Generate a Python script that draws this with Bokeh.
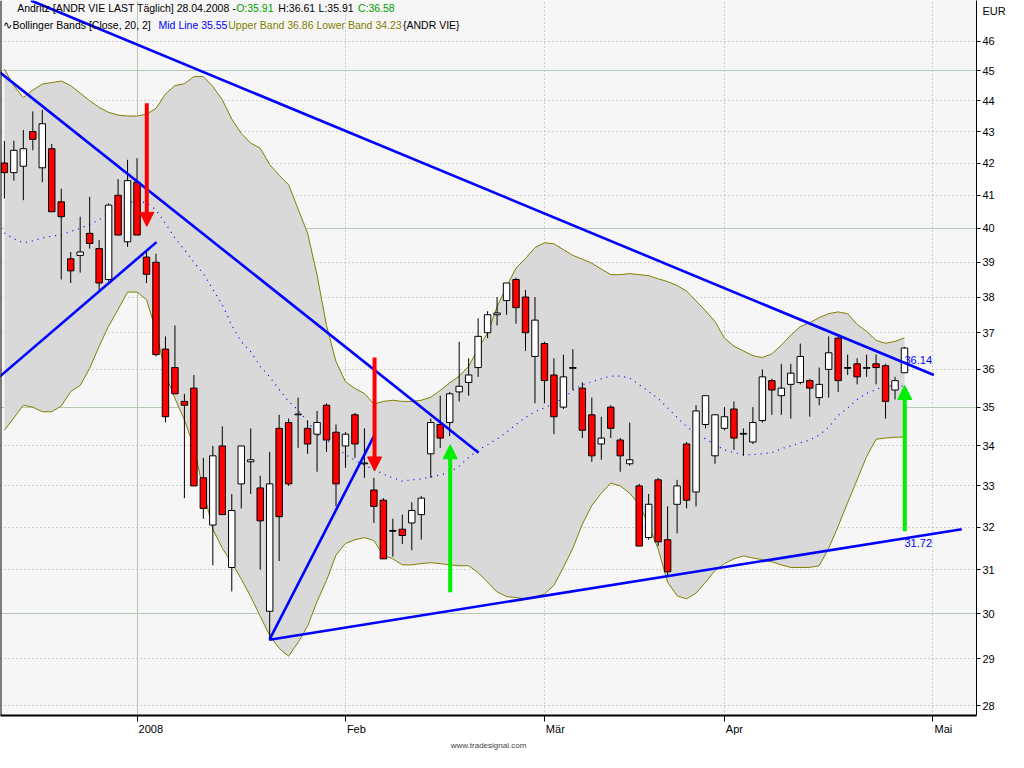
from bokeh.plotting import figure
from bokeh.models import (Range1d, FixedTicker, Grid, Label, Arrow, NormalHead, Span)
from bokeh.embed import file_html
from bokeh.resources import INLINE

# ---------------- data ----------------
opens = [42.0, 41.7, 41.9, 43.0, 41.85, 42.45, 40.8, 39.1, 39.2, 39.85,
         39.4, 38.5, 41.0, 39.6, 41.4, 39.15, 39.0, 36.55, 36.05, 35.15,
         35.5, 33.2, 32.05, 34.0, 31.05, 33.05, 33.6, 32.95, 30.05, 34.45,
         34.6, 34.8, 34.45, 34.3, 35.05, 34.35, 34.0, 34.8, 33.55, 32.9,
         32.65, 31.9, 31.95, 32.1, 32.3, 33.8, 34.55, 34.6, 35.4, 35.65,
         36.05, 37.0, 37.5, 37.9, 38.5, 38.0, 36.35, 36.7, 35.85, 35.0,
         36.05, 35.5, 34.8, 34.05, 35.0, 34.15, 33.55, 33.0, 31.75, 33.15,
         31.7, 32.55, 34.05, 32.85, 34.55, 33.75, 34.45, 34.95, 34.3, 34.1,
         34.65, 35.7, 35.3, 35.6, 35.65, 35.7, 35.25, 36.0, 36.85, 36.05,
         36.15, 36.05, 36.15, 36.1, 35.45, 35.91]
highs = [42.7, 42.7, 43.05, 43.65, 43.7, 42.6, 41.2, 39.3, 40.35, 40.95,
         39.65, 40.75, 41.5, 42.1, 42.15, 39.3, 39.25, 36.9, 37.2, 35.35,
         35.85, 33.7, 34.0, 34.5, 32.8, 34.0, 34.45, 33.25, 33.85, 34.8,
         34.7, 35.25, 34.65, 34.9, 35.1, 34.55, 34.35, 34.85, 34.45, 33.2,
         32.7, 32.2, 32.3, 32.6, 32.75, 34.7, 35.3, 35.4, 36.75, 36.3,
         37.4, 37.6, 38.0, 38.4, 38.55, 38.2, 38.0, 36.75, 36.3, 36.4,
         36.55, 35.65, 35.25, 34.75, 35.05, 34.2, 34.6, 33.05, 32.8, 33.2,
         32.5, 33.15, 34.1, 35.05, 35.3, 34.8, 35.0, 35.15, 34.45, 35.0,
         36.0, 35.75, 36.15, 36.15, 36.7, 35.75, 36.05, 36.9, 36.9, 36.4,
         36.3, 36.4, 36.4, 36.15, 35.8, 36.61]
lows = [40.9, 41.45, 40.85, 42.4, 41.4, 40.5, 38.5, 38.4, 38.7, 39.4,
        38.2, 38.45, 39.8, 39.45, 39.8, 38.4, 36.35, 34.6, 35.35, 32.7,
        33.0, 32.2, 31.1, 32.3, 30.5, 32.45, 32.8, 31.0, 29.4, 31.2,
        33.0, 33.95, 33.8, 33.35, 33.85, 32.5, 33.45, 33.7, 33.2, 32.1,
        31.25, 31.3, 31.6, 31.45, 31.7, 33.2, 33.95, 34.25, 35.15, 35.3,
        35.8, 36.85, 37.2, 37.5, 37.25, 36.5, 35.1, 35.1, 34.3, 34.95,
        35.45, 34.2, 33.6, 33.65, 34.2, 33.35, 33.5, 31.55, 31.7, 31.55,
        30.85, 31.85, 32.45, 32.5, 34.45, 33.55, 34.4, 33.9, 33.75, 34.05,
        34.6, 34.8, 34.8, 34.7, 35.6, 34.75, 35.05, 35.25, 35.4, 35.85,
        35.6, 35.8, 35.6, 34.7, 35.2, 35.91]
closes = [41.7, 42.4, 42.45, 42.75, 43.25, 40.5, 40.35, 38.75, 39.3, 39.55,
          38.4, 40.7, 39.8, 41.45, 39.8, 38.65, 36.4, 34.75, 35.35, 35.05,
          33.0, 32.45, 33.75, 32.3, 32.4, 34.0, 33.65, 32.15, 33.05, 32.25,
          33.05, 34.82, 34.05, 34.6, 34.15, 33.05, 34.3, 34.05, 33.57, 32.5,
          31.25, 31.92, 31.8, 32.4, 32.7, 34.6, 34.2, 35.35, 35.55, 35.85,
          36.9, 37.5, 37.55, 38.4, 37.7, 37.0, 37.35, 35.7, 34.75, 35.8,
          36.03, 34.4, 33.75, 34.2, 34.45, 33.75, 33.65, 31.55, 32.55, 31.65,
          30.95, 33.0, 32.65, 34.9, 35.3, 34.8, 34.75, 34.2, 34.32, 34.6,
          35.8, 35.45, 35.5, 35.9, 36.35, 35.5, 35.6, 36.45, 35.7, 36.03,
          35.8, 36.03, 36.05, 35.15, 35.7, 36.58]

bb_upper = [45.05, 44.5, 44.1, 44.35, 44.55, 44.6, 44.65, 44.5, 44.25, 44.0,
            43.78, 43.62, 43.53, 43.5, 43.5, 43.56, 43.75, 44.22, 44.5, 44.56,
            44.8, 44.8, 44.47, 44.03, 43.4, 42.94, 42.63, 42.47, 41.95, 41.62,
            41.32, 40.58, 39.86, 38.63, 37.2, 36.21, 35.67, 35.49, 35.36, 35.08,
            35.15, 35.18, 35.15, 35.15, 35.18, 35.26, 35.44, 35.64, 35.82, 36.08,
            36.57, 36.99, 37.72, 38.3, 38.83, 39.11, 39.43, 39.57, 39.54, 39.37,
            39.2, 39.09, 38.97, 38.8, 38.64, 38.64, 38.67, 38.64, 38.61, 38.52,
            38.44, 38.33, 38.17, 37.89, 37.61, 37.31, 36.85, 36.63, 36.5, 36.37,
            36.32, 36.42, 36.66, 36.93, 37.17, 37.28, 37.42, 37.53, 37.58, 37.53,
            37.23, 37.04, 36.79, 36.71, 36.76, 36.86]
bb_mid = [39.86, 39.69, 39.57, 39.63, 39.71, 39.77, 39.8, 39.91, 40.0, 40.12,
          40.26, 40.44, 40.59, 40.77, 40.83, 40.77, 40.56, 40.15, 39.71, 39.37,
          39.0, 38.67, 38.22, 37.78, 37.2, 36.75, 36.48, 36.08, 35.8, 35.46,
          35.15, 34.92, 34.63, 34.3, 34.15, 33.98, 33.78, 33.64, 33.51, 33.41,
          33.29, 33.2, 33.12, 33.15, 33.17, 33.22, 33.27, 33.34, 33.49, 33.71,
          33.9, 34.03, 34.18, 34.35, 34.55, 34.73, 34.88, 34.98, 35.1, 35.23,
          35.44, 35.59, 35.67, 35.75, 35.82, 35.82, 35.77, 35.59, 35.41, 35.23,
          34.98, 34.73, 34.5, 34.3, 34.18, 34.03, 33.9, 33.83, 33.78, 33.78,
          33.8, 33.83, 33.93, 34.0, 34.08, 34.15, 34.28, 34.48, 34.78, 34.98,
          35.2, 35.36, 35.46, 35.56, 35.56, 35.55]
bb_lower = [34.4, 34.72, 35.05, 35.0, 34.88, 34.88, 35.03, 35.41, 35.57, 36.03,
            36.63, 37.18, 37.65, 38.14, 38.14, 37.92, 37.07, 35.87, 35.23, 34.67,
            33.98, 32.88, 31.95, 31.5, 31.16, 30.78, 30.38, 29.94, 29.51, 29.23,
            29.06, 29.36, 29.72, 30.27, 30.75, 31.34, 31.61, 31.7, 31.75, 31.68,
            31.34, 31.25, 31.11, 31.11, 31.14, 31.16, 31.14, 31.11, 31.09, 31.09,
            30.93, 30.71, 30.49, 30.38, 30.36, 30.33, 30.38, 30.44, 30.64, 31.05,
            31.5, 32.07, 32.52, 32.82, 33.07, 33.0, 32.82, 32.54, 32.05, 31.48,
            30.71, 30.4, 30.33, 30.46, 30.71, 30.98, 31.14, 31.25, 31.32, 31.27,
            31.23, 31.18, 31.11, 31.05, 31.05, 31.05, 31.09, 31.5, 32.02, 32.59,
            33.15, 33.73, 34.17, 34.2, 34.22, 34.23]

# month ticks (bar index of first trading day) and labels
month_ticks = [14, 36, 57, 76, 98]
month_labels = ["2008", "Feb", "Mär", "Apr", "Mai"]
month_label_pos = [15.45, 37.15, 58.15, 77.05, 99.1]   # labels sit just right of the ticks
year_ticks = [14]
price_ticks = list(range(28, 47))
major_price_ticks = [30, 35, 40, 45]
currency_label = "EUR"
currency_pos = 47.05

# hand-drawn trend lines (bar index, price)
trend_x0 = [2.8, -0.52, -0.52, 27.98, 27.98]
trend_y0 = [47.42, 44.95, 35.80, 29.42, 29.42]
trend_x1 = [98.1, 50.05, 16.06, 38.96, 101.04]
trend_y1 = [35.85, 33.83, 39.59, 34.23, 31.95]

# signal arrows (bar index, price from -> price to)
arrow_x = [15.03, 39.07, 47.05, 95.03]
arrow_from = [43.92, 36.32, 30.48, 31.90]
arrow_to = [40.06, 33.37, 34.03, 35.57]
arrow_colors = ["#ff0000", "#ff0000", "#00ee00", "#00ee00"]

# trend line value labels
value_label_x = [95.0, 95.0]
value_label_y = [36.14, 31.72]
value_label_text = ["36.14", "31.72"]

# ---------------- figure ----------------
X_START, X_END = -0.41, 102.6
Y_START, Y_END = 27.8, 47.42
FONT = "Liberation Sans"

p = figure(width=1008, height=752,
           x_range=Range1d(X_START, X_END), y_range=Range1d(Y_START, Y_END),
           y_axis_type="log", y_axis_location="right",
           toolbar_location=None, output_backend="svg",
           background_fill_color="#f6f6f6", border_fill_color="white",
           min_border_left=0, min_border_top=0, min_border_right=0,
           min_border_bottom=0)
p.outline_line_color = None

# right price axis: tick marks as minor ticks, so "EUR" gets none
yax = p.yaxis[0]
yax.ticker = FixedTicker(ticks=price_ticks + [currency_pos], minor_ticks=price_ticks)
overrides = {t: str(t) for t in price_ticks}
overrides[currency_pos] = currency_label
yax.major_label_overrides = overrides
yax.major_tick_line_color = None
yax.major_tick_in = 0
yax.major_tick_out = 4
yax.minor_tick_line_color = "black"
yax.minor_tick_in = 0
yax.minor_tick_out = 4
yax.axis_line_color = "black"
yax.major_label_text_font = FONT
yax.major_label_text_font_size = "11px"
yax.major_label_text_color = "black"
yax.major_label_standoff = 2

# bottom axis: labels just right of the month tick marks (drawn as minor ticks)
xax = p.xaxis[0]
xax.ticker = FixedTicker(ticks=month_label_pos, minor_ticks=month_ticks)
xax.major_label_overrides = {t: l for t, l in zip(month_label_pos, month_labels)}
xax.major_tick_line_color = None
xax.major_tick_in = 0
xax.major_tick_out = 5
xax.minor_tick_line_color = "black"
xax.minor_tick_in = 0
xax.minor_tick_out = 6
xax.axis_line_color = "black"
xax.axis_line_width = 2
xax.major_label_text_font = FONT
xax.major_label_text_font_size = "11px"
xax.major_label_text_color = "black"
xax.major_label_standoff = 1
xax.axis_label = "www.tradesignal.com"
xax.axis_label_text_font = FONT
xax.axis_label_text_font_size = "8px"
xax.axis_label_text_font_style = "normal"
xax.axis_label_standoff = 3

# grids
p.ygrid.ticker = FixedTicker(ticks=price_ticks)
p.ygrid.grid_line_color = "#a8a8a8"
p.ygrid.grid_line_dash = "1 3"
p.xgrid.ticker = FixedTicker(ticks=month_ticks)
p.xgrid.grid_line_color = "#a8a8a8"
p.xgrid.grid_line_dash = "1 3"
p.add_layout(Grid(dimension=1, ticker=FixedTicker(ticks=major_price_ticks),
                  grid_line_color="#b4c8b4", grid_line_width=1))
p.add_layout(Grid(dimension=0, ticker=FixedTicker(ticks=year_ticks),
                  grid_line_color="#b4c8b4", grid_line_width=1))
p.add_layout(Span(location=X_START, dimension="height", line_color="black", line_width=2))

idx = list(range(len(opens)))

# Bollinger bands
p.varea(x=idx, y1=bb_lower, y2=bb_upper, fill_color="#d9d9d9")
p.line(idx, bb_upper, line_color="#808000", line_width=1)
p.line(idx, bb_lower, line_color="#808000", line_width=1)
p.line(idx, bb_mid, line_color="#0000ff", line_width=1.2, line_dash="1 5")

# candles
body_top = [max(o, c) for o, c in zip(opens, closes)]
body_bot = [min(o, c) for o, c in zip(opens, closes)]
body_col = ["#ff0000" if c < o else "#ffffff" for o, c in zip(opens, closes)]
p.segment(x0=idx, y0=lows, x1=idx, y1=highs, line_color="black", line_width=1)
p.vbar(x=idx, width=0.68, top=body_top, bottom=body_bot,
       fill_color=body_col, line_color="black", line_width=1)

# trend lines
p.segment(x0=trend_x0, y0=trend_y0, x1=trend_x1, y1=trend_y1,
          line_color="#0000ff", line_width=2.6)

# arrows
for ax_, a0, a1, col in zip(arrow_x, arrow_from, arrow_to, arrow_colors):
    p.add_layout(Arrow(x_start=ax_, y_start=a0, x_end=ax_, y_end=a1,
                       line_color=col, line_width=4,
                       end=NormalHead(size=14, fill_color=col, line_color=col)))

# value labels
for lx, ly, lt, bl in zip(value_label_x, value_label_y, value_label_text, ["bottom", "top"]):
    p.add_layout(Label(x=lx, y=ly, text=lt, text_color="#0000ff",
                       text_font=FONT, text_font_size="11px",
                       text_baseline=bl, text_align="left"))

# header text
HDR = "10.5px"
row1_y, row2_y = 47.15, 46.57
row1 = [(1.35, "Andritz [ANDR VIE LAST Täglich] 28.04.2008 - ", "black"),
        (24.46, f"O:{opens[-1]:.2f}", "#00a000"),
        (28.91, f"H:{highs[-1]:.2f}", "black"),
        (33.16, f"L:{lows[-1]:.2f}", "black"),
        (37.31, f"C:{closes[-1]:.2f}", "#00a000")]
row2 = [(-0.1, "∿Bollinger Bands [Close, 20, 2]", "black"),
        (16.27, f"Mid Line {bb_mid[-1]:.2f}", "#0000ff"),
        (23.63, f"Upper Band {bb_upper[-1]:.2f} Lower Band {bb_lower[-1]:.2f}", "#808000"),
        (42.07, "{ANDR VIE}", "black")]
for x_, t_, c_ in row1:
    p.add_layout(Label(x=x_, y=row1_y, text=t_, text_color=c_, text_font=FONT,
                       text_font_size=HDR, text_baseline="middle"))
for x_, t_, c_ in row2:
    p.add_layout(Label(x=x_, y=row2_y, text=t_, text_color=c_, text_font=FONT,
                       text_font_size=HDR, text_baseline="middle"))

open("out.html", "w").write(file_html(p, INLINE))
